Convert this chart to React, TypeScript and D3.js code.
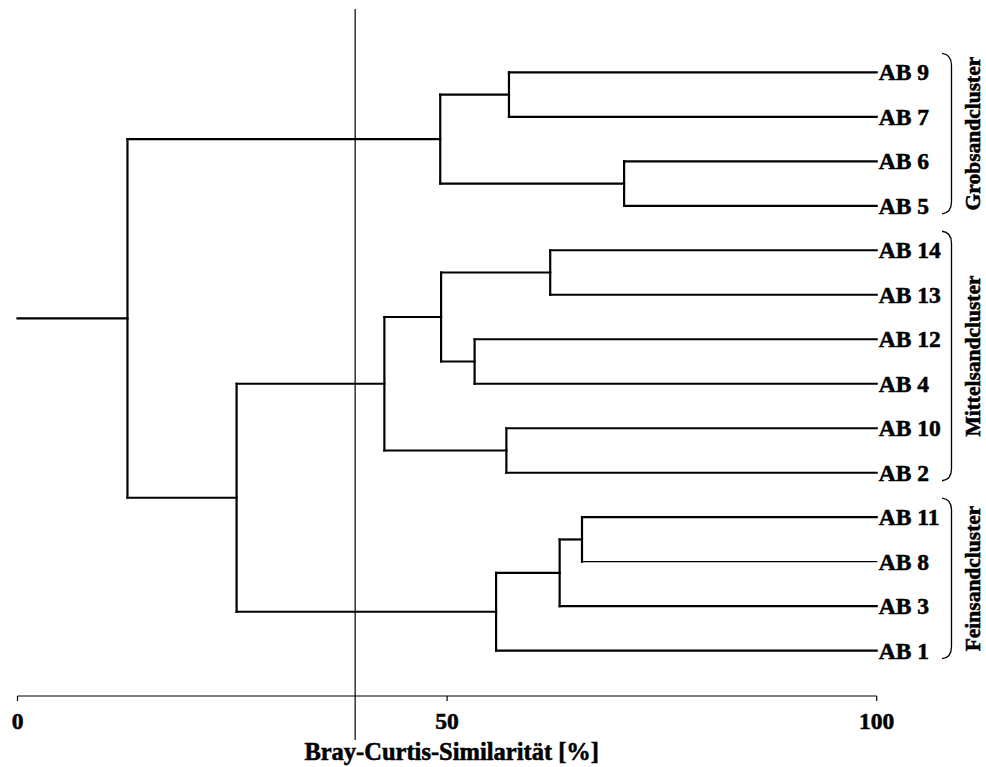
import React from "react";
import * as d3 from "d3";

const leaves = ["AB 9", "AB 7", "AB 6", "AB 5", "AB 14", "AB 13", "AB 12", "AB 4", "AB 10", "AB 2", "AB 11", "AB 8", "AB 3", "AB 1"];

// merges: id, childA, childB, similarity %
const mergeIds = ["n1", "n2", "n3", "n4", "n5", "n6", "n7", "n8", "n9", "n10", "n11", "n12", "n13"];
const mergeA = ["AB 9", "AB 6", "n1", "AB 14", "AB 12", "n4", "AB 10", "n6", "AB 11", "n9", "n10", "n8", "n3"];
const mergeB = ["AB 7", "AB 5", "n2", "AB 13", "AB 4", "n5", "AB 2", "n7", "AB 8", "AB 3", "AB 1", "n11", "n12"];
const mergeSim = [57.2, 70.6, 49.2, 62.0, 53.2, 49.3, 56.9, 42.7, 65.7, 63.1, 55.7, 25.5, 12.8];

const cutSimilarity = 39.3;
const xTicks = [0, 50, 100];
const axisTitle = "Bray-Curtis-Similarität [%]";

const groupNames = ["Grobsandcluster", "Mittelsandcluster", "Feinsandcluster"];
const groupFirst = ["AB 9", "AB 14", "AB 11"];
const groupLast = ["AB 5", "AB 2", "AB 1"];

const thinLeaves = new Set(["AB 8"]);

const FONT = "'Liberation Serif', 'Times New Roman', serif";
const heavy = { fontFamily: FONT, fontWeight: 700, fill: "#000", stroke: "#000", strokeWidth: 0.55 } as const;

export default function App() {
  const x = d3.scaleLinear().domain([0, 100]).range([17.5, 876.7]);
  const y = d3.scalePoint<string>().domain(leaves).range([72.3, 650.7]);

  const nodeY: Record<string, number> = {};
  const nodeX: Record<string, number> = {};
  leaves.forEach((l) => {
    nodeY[l] = y(l) as number;
    nodeX[l] = x(100);
  });
  mergeIds.forEach((id, i) => {
    nodeY[id] = (nodeY[mergeA[i]] + nodeY[mergeB[i]]) / 2;
    nodeX[id] = x(mergeSim[i]);
  });

  const segs: { x1: number; y1: number; x2: number; y2: number; w: number }[] = [];
  mergeIds.forEach((id, i) => {
    const xs = nodeX[id];
    const a = mergeA[i];
    const b = mergeB[i];
    segs.push({ x1: xs, y1: nodeY[a], x2: xs, y2: nodeY[b], w: 2.2 });
    [a, b].forEach((c) => {
      segs.push({ x1: xs, y1: nodeY[c], x2: nodeX[c], y2: nodeY[c], w: thinLeaves.has(c) ? 1.2 : 2.2 });
    });
  });
  const rootId = mergeIds[mergeIds.length - 1];
  segs.push({ x1: x(0), y1: nodeY[rootId], x2: nodeX[rootId], y2: nodeY[rootId], w: 2.2 });

  const axisY = 696;

  return (
    <svg width={986} height={767} style={{ position: "absolute", left: 0, top: 0, background: "#fff" }}>
      <rect width={986} height={767} fill="#fff" />
      <line x1={x(cutSimilarity)} x2={x(cutSimilarity)} y1={9} y2={740} stroke="#000" strokeWidth={1.2} />
      {segs.map((s, i) => (
        <line key={i} x1={s.x1} y1={s.y1} x2={s.x2} y2={s.y2} stroke="#000" strokeWidth={s.w} strokeLinecap="square" />
      ))}
      {leaves.map((l) => (
        <text key={l} x={x(100) + 2} y={y(l)} dy="0.34em" fontSize={23.5} {...heavy}>
          {l}
        </text>
      ))}
      <line x1={x(0)} x2={x(100)} y1={axisY} y2={axisY} stroke="#000" strokeWidth={1.2} />
      {xTicks.map((t) => (
        <g key={t}>
          <line x1={x(t)} x2={x(t)} y1={axisY} y2={axisY + 5} stroke="#000" strokeWidth={1.2} />
          <text x={x(t)} y={729} textAnchor="middle" fontSize={23.5} {...heavy}>
            {t}
          </text>
        </g>
      ))}
      <text x={451.7} y={760} textAnchor="middle" fontSize={24.5} {...heavy}>
        {axisTitle}
      </text>
      {groupNames.map((g, i) => {
        const top = (y(groupFirst[i]) as number) - 19;
        const bot = (y(groupLast[i]) as number) + 8;
        const x0 = 942;
        const x1 = 951.5;
        const p = d3.path();
        p.moveTo(x0, top);
        p.quadraticCurveTo(x1, top + 1, x1, top + 12);
        p.lineTo(x1, bot - 12);
        p.quadraticCurveTo(x1, bot - 1, x0, bot);
        const mid = (top + bot) / 2;
        return (
          <g key={g}>
            <path d={p.toString()} fill="none" stroke="#000" strokeWidth={1.3} />
            <text transform={`translate(980,${mid}) rotate(-90)`} textAnchor="middle" fontSize={21.5} {...heavy}>
              {g}
            </text>
          </g>
        );
      })}
    </svg>
  );
}
